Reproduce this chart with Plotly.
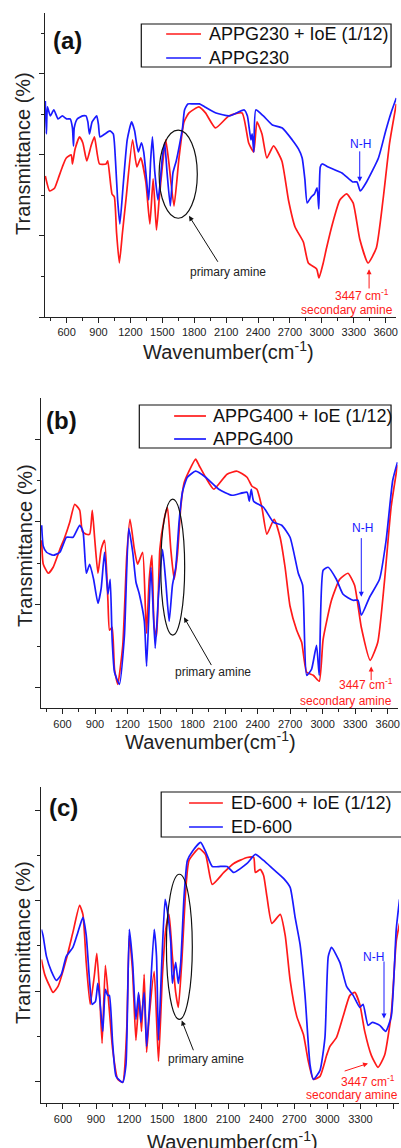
import plotly.graph_objects as go

# ---------------- data (wavenumber cm-1, transmittance a.u.) ----------------
# (a) APPG230
wn_a_ioe = [400, 441, 488, 520, 560, 597, 644, 655, 680, 722, 753, 790, 830, 862, 909, 971, 987, 1027, 1049, 1070,
            1096, 1125, 1158, 1220, 1261, 1298, 1345, 1383, 1414, 1445, 1470, 1500, 1532, 1563, 1610, 1657, 1704, 1751, 1844, 1906,
            2000, 2125, 2250, 2312, 2359, 2390, 2437, 2483, 2546, 2624, 2686, 2748, 2826, 2873, 2951, 2973, 3013, 3044, 3107, 3169,
            3232, 3294, 3356, 3434, 3512, 3575, 3637, 3700]
t_a_ioe = [47, 42, 43, 46, 50, 53, 54, 51, 56, 60, 58, 52, 57, 60, 51, 51, 52, 41, 40, 28,
           18, 28, 39, 59, 50, 53, 45, 31, 46, 29, 39, 50, 59, 51, 37, 53, 65, 68, 70, 68,
           63, 67, 68, 58, 55, 65, 61, 53, 57, 52, 39, 30, 25, 18, 16, 13, 18, 23, 32, 39,
           41, 38, 26, 18, 23, 39, 58, 71]
wn_a = [400, 410, 420, 447, 480, 520, 560, 600, 634, 655, 665, 672, 700, 750, 783, 800, 815, 840, 883, 900,
        914, 960, 1008, 1039, 1060, 1080, 1101, 1130, 1170, 1211, 1240, 1257, 1275, 1304, 1325, 1351, 1372, 1390, 1407, 1430,
        1459, 1475, 1500, 1522, 1545, 1575, 1600, 1631, 1660, 1690, 1709, 1740, 1790, 1849, 1900, 2005, 2130, 2270, 2300, 2333,
        2345, 2360, 2379, 2450, 2535, 2628, 2722, 2780, 2815, 2840, 2862, 2900, 2930, 2955, 2971, 2985, 3002, 3060, 3189, 3290,
        3330, 3361, 3420, 3532, 3600, 3650, 3700]
t_a = [72, 61, 70, 67, 69, 66, 67, 66, 66, 63, 57, 63, 66, 67, 67, 65, 61, 65, 67, 64,
       60, 61, 62, 61, 52, 39, 31, 43, 59, 65, 62, 58, 55, 58, 55, 46, 39, 52, 60, 48,
       39, 43, 53, 58, 48, 37, 48, 52, 57, 63, 69, 71, 71, 71, 70, 68, 67, 69, 67, 59,
       61, 55, 69, 67, 64, 63, 59, 56, 53, 46, 38, 40, 41, 43, 36, 50, 51, 50, 48, 45,
       45, 42, 45, 53, 62, 68, 73]

# (b) APPG400
wn_b_ioe = [408, 423, 469, 514, 576, 621, 667, 713, 759, 783, 820, 851, 875, 896, 927, 957, 988, 1019, 1034, 1058,
            1080, 1110, 1156, 1193, 1223, 1263, 1293, 1339, 1364, 1376, 1400, 1425, 1446, 1468, 1498, 1538, 1568, 1599, 1630, 1660,
            1691, 1721, 1767, 1828, 1859, 1920, 1996, 2118, 2210, 2302, 2348, 2393, 2439, 2485, 2552, 2607, 2653, 2699, 2760, 2806,
            2852, 2913, 2968, 3004, 3081, 3157, 3233, 3294, 3356, 3438, 3508, 3569, 3631, 3690]
t_b_ioe = [56, 48, 45, 47, 53, 57, 62, 68, 66, 59, 58, 58, 66, 57, 45, 53, 56, 36, 26, 27,
           13, 8, 21, 51, 63, 53, 48, 52, 34, 25, 43, 51, 27, 24, 53, 63, 67, 53, 43, 51,
           67, 75, 79, 83, 81, 77, 73, 78, 79, 77, 74, 73, 67, 58, 63, 57, 47, 34, 26, 22,
           12, 11, 9, 23, 36, 43, 45, 41, 27, 16, 22, 42, 67, 81]
wn_b = [408, 423, 453, 514, 576, 637, 698, 759, 789, 820, 851, 887, 927, 957, 988, 1019, 1040, 1058, 1080, 1125,
        1171, 1211, 1248, 1278, 1309, 1355, 1376, 1416, 1455, 1486, 1523, 1553, 1584, 1614, 1645, 1675, 1706, 1752, 1828, 1920,
        2042, 2164, 2302, 2323, 2341, 2363, 2454, 2546, 2622, 2699, 2775, 2815, 2852, 2897, 2943, 2968, 3004, 3050, 3126, 3188,
        3279, 3325, 3356, 3432, 3524, 3585, 3646, 3690]
t_b = [61, 54, 52, 51, 52, 57, 57, 61, 59, 45, 48, 43, 35, 40, 52, 38, 43, 23, 12, 8,
       24, 60, 52, 42, 38, 29, 14, 47, 20, 38, 53, 42, 29, 41, 47, 62, 72, 77, 79, 77,
       73, 71, 72, 69, 73, 69, 67, 62, 61, 57, 45, 41, 11, 13, 21, 11, 46, 47, 43, 38,
       36, 36, 31, 37, 43, 56, 76, 82]

# (c) ED-600
wn_c_ioe = [404, 434, 480, 510, 555, 630, 690, 751, 781, 811, 847, 886, 907, 931, 955, 985, 1021, 1051, 1097, 1142,
            1178, 1202, 1232, 1262, 1292, 1313, 1337, 1359, 1383, 1428, 1467, 1503, 1533, 1563, 1593, 1623, 1647, 1678, 1714, 1744,
            1834, 1894, 1955, 2060, 2150, 2271, 2331, 2346, 2391, 2421, 2451, 2496, 2572, 2617, 2662, 2722, 2782, 2827, 2873, 2933,
            2993, 3023, 3083, 3143, 3204, 3249, 3294, 3339, 3399, 3459, 3519, 3580, 3625, 3655]
t_c_ioe = [48, 43, 39, 37, 39, 48, 57, 66, 63, 47, 33, 43, 50, 38, 20, 46, 31, 18, 8, 7,
           24, 56, 44, 21, 36, 24, 43, 17, 29, 44, 14, 43, 58, 63, 49, 37, 32, 47, 71, 81,
           85, 83, 73, 77, 80, 82, 82, 77, 78, 76, 69, 60, 63, 56, 41, 29, 23, 14, 8, 9,
           16, 19, 22, 29, 36, 37, 33, 24, 16, 12, 16, 30, 54, 60]
wn_c = [404, 419, 450, 495, 540, 585, 630, 690, 735, 781, 811, 841, 865, 895, 916, 931, 961, 985, 1006, 1021,
        1051, 1082, 1142, 1172, 1202, 1232, 1262, 1286, 1307, 1337, 1359, 1383, 1428, 1449, 1467, 1497, 1527, 1548, 1578, 1593,
        1623, 1647, 1669, 1699, 1729, 1774, 1849, 1894, 1955, 2030, 2090, 2150, 2271, 2346, 2421, 2511, 2602, 2662, 2707, 2752,
        2797, 2842, 2873, 2933, 2978, 3008, 3038, 3113, 3174, 3234, 3294, 3324, 3369, 3408, 3475, 3529, 3580, 3625, 3655]
t_c = [58, 56, 49, 44, 41, 43, 49, 52, 57, 62, 56, 41, 33, 34, 40, 36, 24, 38, 36, 36,
       20, 9, 7, 13, 58, 47, 28, 37, 27, 37, 19, 31, 58, 49, 21, 47, 68, 64, 54, 40,
       47, 40, 47, 69, 81, 84, 87, 84, 79, 79, 79, 77, 80, 83, 81, 78, 75, 72, 62, 53,
       36, 13, 8, 11, 22, 49, 52, 47, 39, 36, 32, 33, 26, 27, 26, 24, 29, 58, 68]

names_a = ["APPG230 + IoE (1/12)", "APPG230"]
names_b = ["APPG400 + IoE (1/12)", "APPG400"]
names_c = ["ED-600 + IoE (1/12)", "ED-600"]
x_ticks = [600, 900, 1200, 1500, 1800, 2100, 2400, 2700, 3000, 3300, 3600]

# ---------------- layout helpers ----------------
W, H = 401, 1148
RED = "#ff1a1a"
BLUE = "#1a1aff"
INK = "#222222"
FONT = "Arial, Liberation Sans, sans-serif"


def fx(px):
    return px / W


def fy(py):
    return 1 - py / H


panels = [
    dict(tag="(a)", ioe=(wn_a_ioe, t_a_ioe), base=(wn_a, t_a), names=names_a,
         xdom=(45, 398.3), xr=(395, 3700), ydom=(13, 317), yr=(0, 101.3), y0=0, dy=27, right=True,
         box=(142, 393, 24, 67), sample=(167, 202), rows=(34, 58), text_x=208,
         tag_xy=(68, 41), xtitle=(230, 350), ytitle=(23, 153),
         ellipse=(1470, 1829, 32.9, 62.3), amine_arrow=(2031, 17.9, 1751, 33.7), amine_text=(2118, 15.1),
         nh_text=(3366, 57.6), nh_arrow=(3356, 55.7, 3356, 45.1),
         sec1=(3381, 7.3), sec2=(3232, 2.3), sec_arrow=(3444, 9.0, 3444, 15.9)),
    dict(tag="(b)", ioe=(wn_b_ioe, t_b_ioe), base=(wn_b, t_b), names=names_b,
         xdom=(41, 399.5), xr=(400, 3690), ydom=(398.3, 708.3), yr=(0, 103.3), y0=6.9, dy=27.6, right=True,
         box=(140, 393, 405, 448), sample=(175, 207), rows=(416, 439), text_x=212,
         tag_xy=(62, 420), xtitle=(212, 740), ytitle=(25, 545),
         ellipse=(1507, 1727, 24.4, 69.7), amine_arrow=(1981, 13.9, 1721, 30.3), amine_text=(1990, 12.0),
         nh_text=(3365, 60.2), nh_arrow=(3356, 57.2, 3356, 37.2),
         sec1=(3401, 8.1), sec2=(3218, 2.6), sec_arrow=(3447, 8.9, 3447, 13.9)),
    dict(tag="(c)", ioe=(wn_c_ioe, t_c_ioe), base=(wn_c, t_c), names=names_c,
         xdom=(41.7, 401), xr=(405, 3650), ydom=(786.7, 1103.3), yr=(0, 105.6), y0=7.2, dy=30.2, right=False,
         box=(162, 430, 792, 837), sample=(190, 224), rows=(803, 827), text_x=230,
         tag_xy=(64, 807), xtitle=(234, 1140), ytitle=(23, 942),
         ellipse=(1539, 1774, 28.0, 76.4), amine_arrow=(1789, 17.2, 1678, 27.6), amine_text=(1894, 14.8),
         nh_text=(3423, 48.9), nh_arrow=(3514, 47.8, 3514, 28.3),
         sec1=(3369, 7.6), sec2=(3219, 2.8), sec_arrow=(3143, 10.6, 3369, 13.3)),
]

fig = go.Figure()
layout = {}
shapes = []
annotations = []

for i, p in enumerate(panels):
    n = i + 1
    xa = "x" if n == 1 else "x%d" % n
    ya = "y" if n == 1 else "y%d" % n
    xkey = "xaxis" if n == 1 else "xaxis%d" % n
    ykey = "yaxis" if n == 1 else "yaxis%d" % n

    fig.add_trace(go.Scatter(x=p["ioe"][0], y=p["ioe"][1], mode="lines", name=p["names"][0],
                             line=dict(color=RED, width=1.7, shape="spline", smoothing=0.5),
                             xaxis=xa, yaxis=ya, showlegend=False))
    fig.add_trace(go.Scatter(x=p["base"][0], y=p["base"][1], mode="lines", name=p["names"][1],
                             line=dict(color=BLUE, width=1.7, shape="spline", smoothing=0.5),
                             xaxis=xa, yaxis=ya, showlegend=False))

    layout[xkey] = dict(domain=[fx(p["xdom"][0]), fx(p["xdom"][1])], range=list(p["xr"]), anchor=ya,
                        tickvals=x_ticks, ticks="outside", ticklen=5, tickwidth=1, tickcolor=INK,
                        minor=dict(dtick=150, tick0=0, ticks="outside", ticklen=3, tickcolor=INK),
                        showline=True, linecolor=INK, linewidth=1.2, showgrid=False, zeroline=False,
                        tickfont=dict(size=11, color=INK, family=FONT))
    layout[ykey] = dict(domain=[fy(p["ydom"][1]), fy(p["ydom"][0])], range=list(p["yr"]), anchor=xa,
                        tick0=p["y0"], dtick=p["dy"], ticks="outside", ticklen=5, tickcolor=INK,
                        minor=dict(tick0=p["y0"], dtick=p["dy"] / 2, ticks="outside", ticklen=3, tickcolor=INK),
                        showticklabels=False, showline=True, linecolor=INK, linewidth=1.2,
                        showgrid=False, zeroline=False)
    # top border with inward ticks
    layout["xaxis%d" % (n + 3)] = dict(overlaying=xa, anchor=ya, side="top", range=list(p["xr"]),
                                        tickvals=x_ticks, ticks="inside", ticklen=4, tickcolor=INK,
                                        minor=dict(dtick=150, tick0=0, ticks="inside", ticklen=2, tickcolor=INK),
                                        showticklabels=False, showline=True, linecolor=INK, linewidth=1.2,
                                        showgrid=False, zeroline=False)
    if p["right"]:
        layout["yaxis%d" % (n + 3)] = dict(overlaying=ya, anchor=xa, side="right", range=list(p["yr"]),
                                            tick0=p["y0"], dtick=p["dy"], ticks="inside", ticklen=4,
                                            tickcolor=INK,
                                            minor=dict(tick0=p["y0"], dtick=p["dy"] / 2, ticks="inside",
                                                       ticklen=2, tickcolor=INK),
                                            showticklabels=False, showline=True, linecolor=INK, linewidth=1.2,
                                            showgrid=False, zeroline=False)

    # hand-drawn legend box
    bx0, bx1, by0, by1 = p["box"]
    shapes.append(dict(type="rect", xref="paper", yref="paper", x0=fx(bx0), x1=fx(bx1), y0=fy(by1), y1=fy(by0),
                       line=dict(color="#111111", width=1.2), fillcolor="white"))
    for row_y, col, label in zip(p["rows"], [RED, BLUE], p["names"]):
        shapes.append(dict(type="line", xref="paper", yref="paper", x0=fx(p["sample"][0]), x1=fx(p["sample"][1]),
                           y0=fy(row_y), y1=fy(row_y), line=dict(color=col, width=1.7)))
        annotations.append(dict(xref="paper", yref="paper", x=fx(p["text_x"]), y=fy(row_y), text=label,
                                showarrow=False, xanchor="left", yanchor="middle",
                                font=dict(size=18, color="#111111", family=FONT)))

    # panel tag and axis titles
    annotations.append(dict(xref="paper", yref="paper", x=fx(p["tag_xy"][0]), y=fy(p["tag_xy"][1]),
                            text="<b>%s</b>" % p["tag"], showarrow=False, xanchor="center", yanchor="middle",
                            font=dict(size=24, color="#111111", family=FONT)))
    annotations.append(dict(xref="paper", yref="paper", x=fx(p["xtitle"][0]), y=fy(p["xtitle"][1]),
                            text="Wavenumber(cm<sup>-1</sup>)", showarrow=False, xanchor="center",
                            yanchor="middle", font=dict(size=20, color=INK, family=FONT)))
    annotations.append(dict(xref="paper", yref="paper", x=fx(p["ytitle"][0]), y=fy(p["ytitle"][1]),
                            text="Transmittance (%)", textangle=-90, showarrow=False, xanchor="center",
                            yanchor="middle", font=dict(size=20, color=INK, family=FONT)))

    # primary amine ellipse + arrow
    e = p["ellipse"]
    shapes.append(dict(type="circle", xref=xa, yref=ya, x0=e[0], x1=e[1], y0=e[2], y1=e[3],
                       line=dict(color="#111111", width=1.2)))
    a = p["amine_arrow"]
    annotations.append(dict(xref=xa, yref=ya, axref=xa, ayref=ya, x=a[2], y=a[3], ax=a[0], ay=a[1], text="",
                            showarrow=True, arrowhead=2, arrowsize=1, arrowwidth=1, arrowcolor="#111111"))
    annotations.append(dict(xref=xa, yref=ya, x=p["amine_text"][0], y=p["amine_text"][1], text="primary amine",
                            showarrow=False, font=dict(size=12, color=INK, family=FONT)))

    # N-H marker
    annotations.append(dict(xref=xa, yref=ya, x=p["nh_text"][0], y=p["nh_text"][1], text="N-H",
                            showarrow=False, font=dict(size=12, color=BLUE, family=FONT)))
    a = p["nh_arrow"]
    annotations.append(dict(xref=xa, yref=ya, axref=xa, ayref=ya, x=a[2], y=a[3], ax=a[0], ay=a[1], text="",
                            showarrow=True, arrowhead=2, arrowsize=1, arrowwidth=1, arrowcolor=BLUE))

    # secondary amine marker
    annotations.append(dict(xref=xa, yref=ya, x=p["sec1"][0], y=p["sec1"][1], text="3447 cm<sup>-1</sup>",
                            showarrow=False, font=dict(size=12, color=RED, family=FONT)))
    annotations.append(dict(xref=xa, yref=ya, x=p["sec2"][0], y=p["sec2"][1], text="secondary amine",
                            showarrow=False, font=dict(size=12, color=RED, family=FONT)))
    a = p["sec_arrow"]
    annotations.append(dict(xref=xa, yref=ya, axref=xa, ayref=ya, x=a[2], y=a[3], ax=a[0], ay=a[1], text="",
                            showarrow=True, arrowhead=2, arrowsize=1, arrowwidth=1, arrowcolor=RED))

fig.update_layout(
    width=W, height=H,
    margin=dict(l=0, r=0, t=0, b=0),
    paper_bgcolor="white", plot_bgcolor="white",
    font=dict(family=FONT, color=INK),
    showlegend=False,
    shapes=shapes,
    annotations=annotations,
    **layout
)

fig.write_html("out.html", config={"displayModeBar": False},
               post_script="document.body.style.margin='0';")
